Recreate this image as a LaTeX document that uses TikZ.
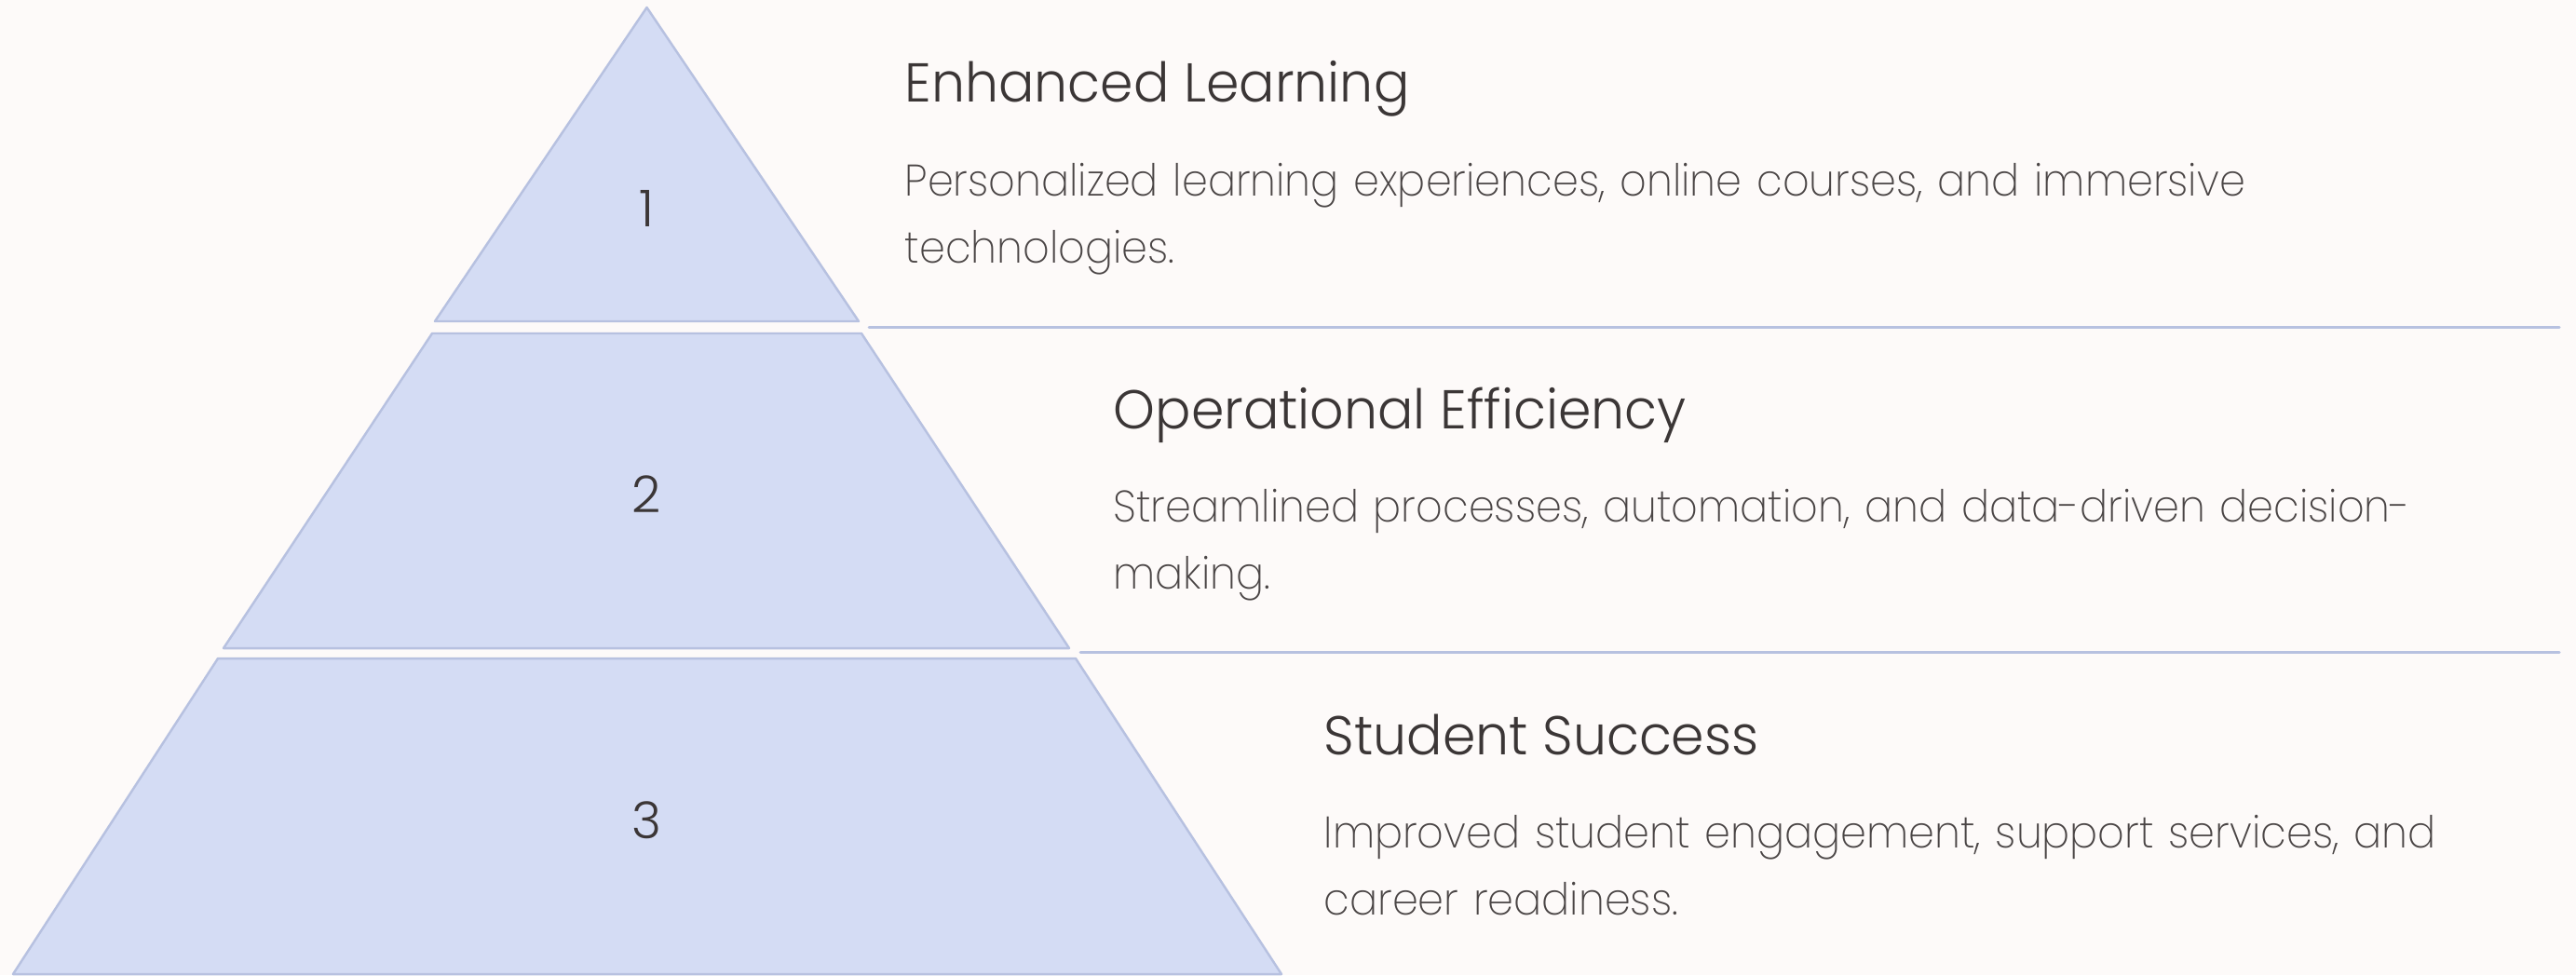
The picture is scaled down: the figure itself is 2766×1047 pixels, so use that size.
\documentclass[tikz,border=0pt]{standalone}
\usepackage{fontspec}
\setmainfont{Poppins}[UprightFont={* Light}]
\newfontfamily\ttlfont{Poppins}[UprightFont={* Light},FakeStretch=0.97]
\newfontfamily\dscfont{Poppins}[UprightFont={* ExtraLight},FakeStretch=0.94]
\usepackage{tikz}
\definecolor{bgc}{HTML}{FDFAF9}
\definecolor{tierfill}{HTML}{D4DCF4}
\definecolor{tierline}{HTML}{B7C1E0}
\definecolor{ttlc}{HTML}{3B3636}
\definecolor{dscc}{HTML}{4A4545}
\tikzset{tier/.style={fill=tierfill,draw=tierline,line width=0.7pt,line join=round},
  num/.style={inner sep=0pt,anchor=base,text=ttlc,font=\fontsize{15.5}{18}\selectfont},
  ttl/.style={inner sep=0pt,anchor=base west,text=ttlc,font=\ttlfont\fontsize{16.7}{20}\selectfont},
  dsc/.style={inner sep=0pt,anchor=base west,text=dscc,text width=20cm,align=left,font=\dscfont\fontsize{13.5}{20.5}\selectfont},
  sep/.style={draw=tierline,line width=0.85pt,line cap=round}}

\begin{document}
\begin{tikzpicture}[x=0.01cm,y=-0.01cm]
    \fill[bgc] (0,0) rectangle (2766,1047);
    \useasboundingbox (0,0) rectangle (2766,1047);
    % pyramid
    \draw[tier] (694.5,8) -- (922,345) -- (467,345) -- cycle;
    \draw[tier] (464,358) -- (925,358) -- (1148,696) -- (240,696) -- cycle;
    \draw[tier] (234,707) -- (1155,707) -- (1376,1046) -- (14,1046) -- cycle;
    \node[num] (n1) at (694.5,243) {1};
    \node[num] (n2) at (694.5,550) {2};
    \node[num] (n3) at (694.5,900) {3};
    % separators
    \coordinate (s1a) at (933,351);
    \coordinate (s1b) at (2748,351);
    \coordinate (s2a) at (1160,700);
    \coordinate (s2b) at (2748,700);
    \draw[sep] (s1a) -- (s1b);
    \draw[sep] (s2a) -- (s2b);
    % texts
    \node[ttl] (t1) at (971,109) {Enhanced Learning};
    \node[dsc] (d1) at (971,210) {Personalized learning experiences, online courses, and immersive\\technologies.};
    \node[ttl] (t2) at (1195,460) {Operational Efficiency};
    \node[dsc] (d2) at (1195,560) {Streamlined processes, automation, and data-driven decision-\\making.};
    \node[ttl] (t3) at (1421,810) {Student Success};
    \node[dsc] (d3) at (1421,910) {Improved student engagement, support services, and\\career readiness.};
\end{tikzpicture}
\end{document}
